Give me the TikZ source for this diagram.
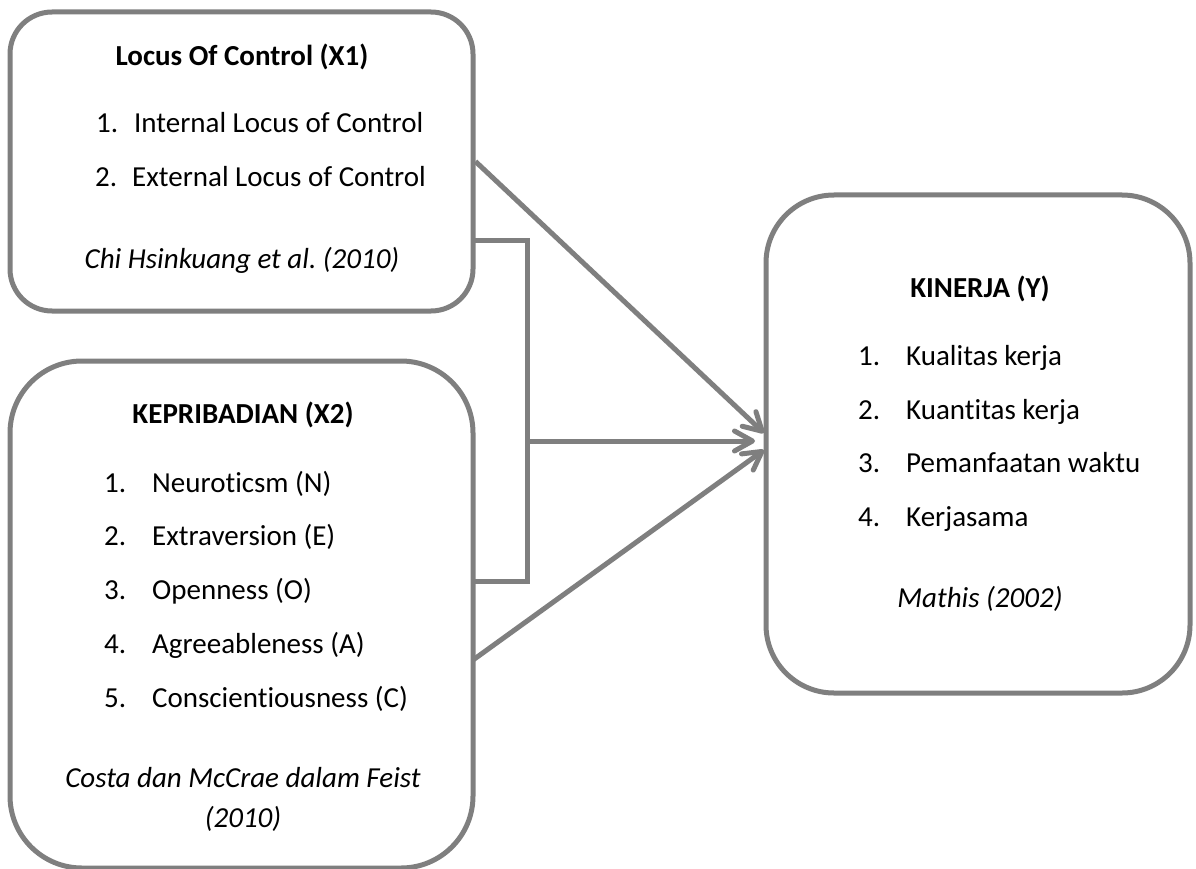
\documentclass[tikz,border=0pt]{standalone}
\usepackage{fontspec}
\setmainfont{Carlito}[Ligatures=NoCommon]
\usepackage{tikz}
\usetikzlibrary{arrows.meta,positioning}
\frenchspacing

\definecolor{linegray}{HTML}{7F7F7F}

\tikzset{
  box/.style={draw=linegray,line width=5pt,fill=white},
  txt/.style={inner sep=0pt,font=\fontsize{29}{35}\selectfont},
  item/.style={txt,anchor=base west},
  conn/.style={draw=linegray,line width=5pt},
  arr/.style={conn,-{Straight Barb[length=18pt,width=20pt,round]}}
}

\begin{document}
\begin{tikzpicture}[x=1pt,y=-1pt]
\useasboundingbox (0,0) rectangle (1196,869);
% Boxes
\node[box,rounded corners=42pt,minimum width=463pt,minimum height=299pt] (locbox) at (241.5,161.5) {};
\node[box,rounded corners=72pt,minimum width=463pt,minimum height=507pt] (kepbox) at (241.5,614.5) {};
\node[box,rounded corners=68pt,minimum width=424pt,minimum height=498pt] (kinbox) at (978,444) {};
% Locus of control
\node[txt,anchor=base,font=\fontsize{29}{35}\selectfont\bfseries] (loctitle) at (242,66) {Locus Of Control (X1)};
\node[item] (loc1) at (96,133) {\makebox[38pt][l]{1.}Internal Locus of Control};
\node[item] (loc2) at (95,187) {\makebox[37pt][l]{2.}External Locus of Control};
\node[txt,anchor=base,font=\fontsize{29}{35}\selectfont\itshape] (loccite) at (242,268) {Chi Hsinkuang et al. (2010)};
% Kepribadian
\node[txt,anchor=base,font=\fontsize{29}{35}\selectfont\bfseries] (keptitle) at (243,423) {KEPRIBADIAN (X2)};
\node[item] (kep1) at (104,492) {\makebox[48pt][l]{1.}Neuroticsm (N)};
\node[item] (kep2) at (104,545) {\makebox[48pt][l]{2.}Extraversion (E)};
\node[item] (kep3) at (104,599) {\makebox[48pt][l]{3.}Openness (O)};
\node[item] (kep4) at (104,653) {\makebox[48pt][l]{4.}Agreeableness (A)};
\node[item] (kep5) at (104,707) {\makebox[48pt][l]{5.}Conscientiousness (C)};
\node[txt,anchor=base,font=\fontsize{29}{35}\selectfont\itshape] (kepcite) at (243,787) {Costa dan McCrae dalam Feist};
\node[txt,anchor=base,font=\fontsize{29}{35}\selectfont\itshape] (kepyear) at (243,827) {(2010)};
% Kinerja
\node[txt,anchor=base,font=\fontsize{29}{35}\selectfont\bfseries] (kintitle) at (980,297) {KINERJA (Y)};
\node[item] (kin1) at (858,365) {\makebox[48pt][l]{1.}Kualitas kerja};
\node[item] (kin2) at (858,419) {\makebox[48pt][l]{2.}Kuantitas kerja};
\node[item] (kin3) at (858,472) {\makebox[48pt][l]{3.}Pemanfaatan waktu};
\node[item] (kin4) at (858,526) {\makebox[48pt][l]{4.}Kerjasama};
\node[txt,anchor=base,font=\fontsize{29}{35}\selectfont\itshape] (kincite) at (980,607) {Mathis (2002)};
% Connector points
\coordinate (brktop) at (473,240);
\coordinate (brkbot) at (473,581);
\coordinate (brkmid) at (527,441);
\coordinate (kepout) at (473,660);
\coordinate (tiptop) at (764,433);
\coordinate (tipmid) at (755,441);
\coordinate (tipbot) at (764,450);
% Arrows
\draw[conn] (brktop) -| (brkmid) |- (brkbot);
\draw[arr] (locbox.east) -- (tiptop);
\draw[arr] (brkmid) -- (tipmid);
\draw[arr] (kepout) -- (tipbot);
\end{tikzpicture}
\end{document}
